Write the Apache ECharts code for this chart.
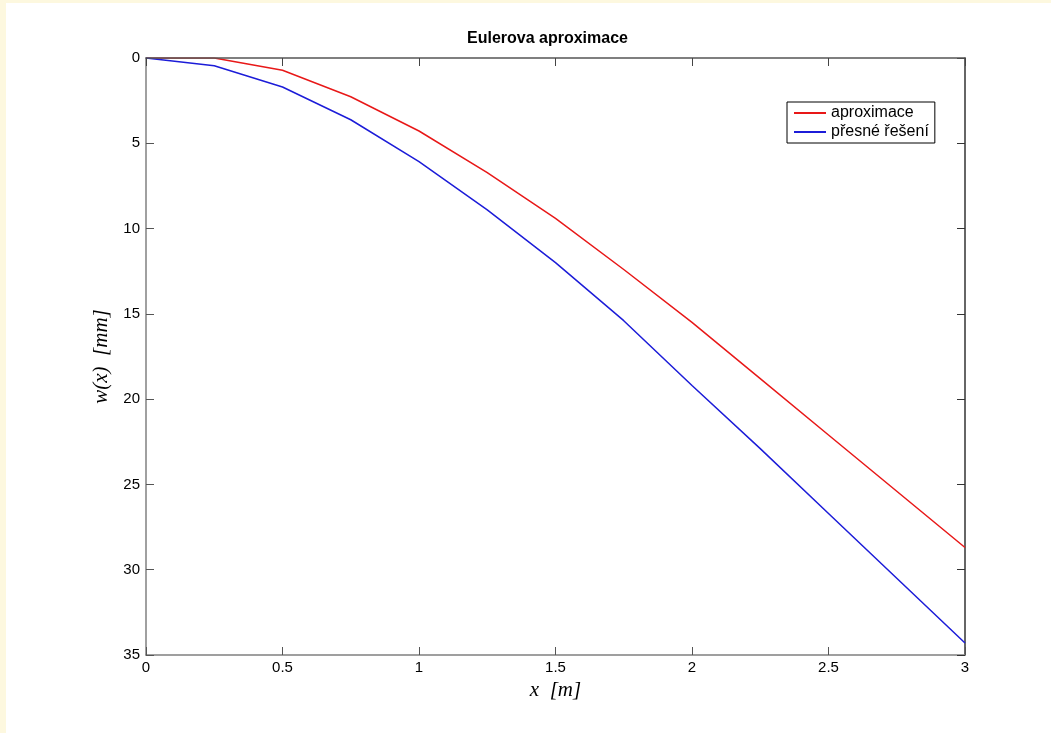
<!DOCTYPE html>
<html>
<head>
<meta charset="utf-8">
<script src="https://cdn.jsdelivr.net/npm/echarts@6/dist/echarts.min.js"></script>
<style>
  html, body { margin: 0; padding: 0; background: #fdf8df; }
  #chart { position: absolute; left: 6px; top: 3px; width: 1045px; height: 730px; background: #fff; }
</style>
</head>
<body>
<div id="chart"></div>
<script>
var xs = [0, 0.25, 0.5, 0.75, 1, 1.25, 1.5, 1.75, 2, 2.25, 2.5, 2.75, 3];
var aproximace = [0, 0, 0.72, 2.27, 4.28, 6.72, 9.4, 12.4, 15.5, 18.8, 22.1, 25.4, 28.7];
var presne = [0, 0.45, 1.7, 3.62, 6.07, 8.9, 12.0, 15.4, 19.2, 22.9, 26.7, 30.5, 34.3];

function pairs(xv, yv) {
    return xv.map(function (x, i) { return [x, yv[i]]; });
}

var mychart = echarts.init(document.getElementById('chart'));
var sansFont = 'Liberation Sans, Arial, sans-serif';
var serifFont = 'Liberation Serif, Times New Roman, serif';

var option = {
    animation: false,
    graphic: [{
        type: 'text',
        left: 461, top: 28,
        style: {
            text: 'Eulerova aproximace',
            font: 'bold 16px ' + sansFont,
            fill: '#000'
        }
    }],
    grid: { left: 140, top: 55, width: 819, height: 597 },
    legend: {
        orient: 'vertical',
        left: 781, top: 99,
        padding: [3, 6, 3, 6],
        itemWidth: 32, itemHeight: 2,
        itemGap: 3,
        borderColor: '#000', borderWidth: 1,
        backgroundColor: '#fff',
        textStyle: { fontFamily: sansFont, fontSize: 16, color: '#000' },
        data: ['aproximace', 'přesné řešení']
    },
    xAxis: [{
        type: 'value', min: 0, max: 3, interval: 0.5,
        name: 'x  [m]', nameLocation: 'middle', nameGap: 22,
        nameTextStyle: { fontFamily: serifFont, fontStyle: 'italic', fontSize: 21, color: '#000' },
        axisLine: { onZero: false, lineStyle: { color: '#808080', width: 1.5 } },
        axisTick: { inside: true, length: 8, lineStyle: { color: '#555' } },
        axisLabel: { margin: 5, fontFamily: sansFont, fontSize: 15, color: '#000' },
        splitLine: { show: false }
    }, {
        type: 'value', min: 0, max: 3, interval: 0.5, position: 'top', z: 5,
        axisLine: { onZero: false, lineStyle: { color: '#555', width: 1.5 } },
        axisTick: { inside: true, length: 8, lineStyle: { color: '#444' } },
        axisLabel: { show: false },
        splitLine: { show: false }
    }],
    yAxis: [{
        type: 'value', min: 0, max: 35, interval: 5, inverse: true,
        name: 'w(x)  [mm]', nameLocation: 'middle', nameGap: 26,
        nameTextStyle: { fontFamily: serifFont, fontStyle: 'italic', fontSize: 21, color: '#000' },
        axisLine: { onZero: false, lineStyle: { color: '#808080', width: 1.5 } },
        axisTick: { show: true, inside: true, length: 8, lineStyle: { color: '#555' } },
        axisLabel: { margin: 6, fontFamily: sansFont, fontSize: 15, color: '#000' },
        splitLine: { show: false }
    }, {
        type: 'value', min: 0, max: 35, interval: 5, inverse: true, position: 'right',
        axisLine: { show: true, onZero: false, lineStyle: { color: '#333', width: 1.5 } },
        axisTick: { show: true, inside: true, length: 8, lineStyle: { color: '#333' } },
        axisLabel: { show: false },
        splitLine: { show: false }
    }],
    series: [{
        name: 'aproximace', type: 'line', symbol: 'none',
        lineStyle: { color: '#e81818', width: 1.5 },
        itemStyle: { color: '#e81818' },
        data: pairs(xs, aproximace)
    }, {
        name: 'přesné řešení', type: 'line', symbol: 'none',
        lineStyle: { color: '#1c1cd8', width: 1.5 },
        itemStyle: { color: '#1c1cd8' },
        data: pairs(xs, presne)
    }]
};
mychart.setOption(option);
window.addEventListener('resize', function () { mychart.resize(); });
</script>
</body>
</html>
